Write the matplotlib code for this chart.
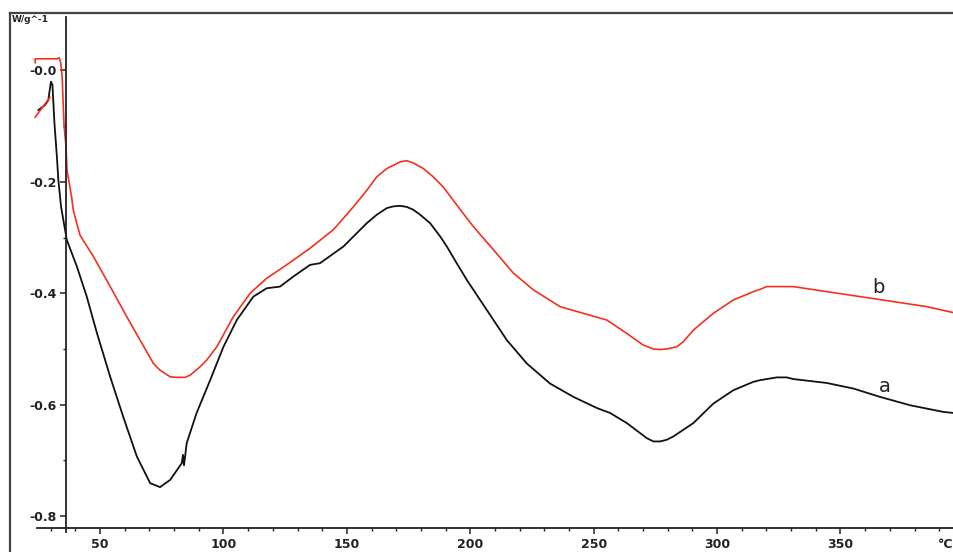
import numpy as np
import matplotlib
matplotlib.use("Agg")
import matplotlib.pyplot as plt
from matplotlib.lines import Line2D

# ---------------------------------------------------------------
# Данные (T, °C  /  тепловой поток, W/g)
# ---------------------------------------------------------------
temp_a = [25.0, 27.7, 29.05, 29.3, 30.1, 30.7, 31.5, 32.5, 33.1, 34.2, 35.8,
          36.5, 40.6, 44.6, 48.7, 54.1, 59.4, 64.9, 70.3, 74.3, 78.4, 83.1,
          83.6, 84.0, 85.1, 89.1, 94.6, 100.0, 105.4, 112.1, 117.5, 122.9,
          128.3, 135.1, 139.1, 148.6, 158.1, 162.1, 166.2, 168.8, 171.6,
          174.3, 176.9, 179.7, 183.7, 187.8, 190.5, 194.5, 198.6, 206.7,
          214.8, 222.9, 232.3, 241.8, 251.3, 256.7, 263.4, 271.5, 274.2,
          276.9, 279.6, 282.3, 290.4, 298.5, 306.6, 314.7, 317.4, 324.2,
          328.2, 330.9, 344.4, 355.2, 366.0, 378.2, 391.7, 396.0]
flow_a = [-0.071, -0.062, -0.053, -0.044, -0.020, -0.026, -0.094, -0.155,
          -0.197, -0.245, -0.286, -0.304, -0.352, -0.406, -0.471, -0.550,
          -0.622, -0.693, -0.741, -0.748, -0.735, -0.705, -0.690, -0.709,
          -0.669, -0.615, -0.556, -0.496, -0.448, -0.406, -0.391, -0.388,
          -0.370, -0.349, -0.346, -0.316, -0.274, -0.259, -0.247, -0.244,
          -0.243, -0.245, -0.250, -0.259, -0.274, -0.298, -0.316, -0.346,
          -0.376, -0.430, -0.484, -0.526, -0.562, -0.586, -0.606, -0.615,
          -0.633, -0.660, -0.666, -0.666, -0.663, -0.657, -0.633, -0.598,
          -0.574, -0.559, -0.556, -0.551, -0.551, -0.554, -0.561, -0.571,
          -0.586, -0.601, -0.613, -0.615]

# кривая b: короткий стартовый кусок, разрыв (nan), затем основная кривая
temp_b = [23.7, 26.5, 29.7, np.nan,
          23.7, 23.7, 32.6, 33.4, 34.0, 34.6, 35.0, 35.4, 36.2, 36.6, 37.6,
          38.5, 39.1, 40.4, 41.9, 47.3, 54.1, 60.8, 66.2, 71.6, 74.3, 78.4,
          81.1, 84.4, 86.5, 90.5, 93.2, 97.3, 104.0, 110.8, 117.5, 125.6,
          135.1, 144.5, 152.6, 158.1, 162.1, 166.2, 171.6, 174.3, 176.9,
          181.0, 185.0, 189.0, 193.1, 197.0, 201.2, 209.4, 217.5, 225.6,
          236.4, 245.8, 255.3, 263.4, 270.1, 274.2, 276.9, 279.6, 283.7,
          286.3, 290.4, 298.5, 306.6, 314.7, 317.4, 320.1, 325.5, 330.9,
          344.4, 358.0, 371.5, 385.0, 396.0]
flow_b = [-0.084, -0.067, -0.048, np.nan,
          0.014, 0.021, 0.021, 0.023, 0.015, -0.008, -0.053, -0.098, -0.137,
          -0.179, -0.205, -0.228, -0.250, -0.272, -0.296, -0.334, -0.388,
          -0.442, -0.484, -0.526, -0.538, -0.550, -0.551, -0.551, -0.547,
          -0.532, -0.520, -0.496, -0.442, -0.400, -0.373, -0.349, -0.319,
          -0.286, -0.245, -0.215, -0.191, -0.176, -0.164, -0.162, -0.166,
          -0.176, -0.191, -0.209, -0.233, -0.256, -0.280, -0.322, -0.364,
          -0.394, -0.424, -0.436, -0.448, -0.472, -0.493, -0.500, -0.501,
          -0.500, -0.496, -0.487, -0.466, -0.436, -0.412, -0.397, -0.393,
          -0.388, -0.388, -0.388, -0.397, -0.406, -0.415, -0.424, -0.435]

y_ticks = [0.0, -0.2, -0.4, -0.6, -0.8]
y_labels = ["-0.0", "-0.2", "-0.4", "-0.6", "-0.8"]
x_ticks = [50, 100, 150, 200, 250, 300, 350]
x_labels = ["50", "100", "150", "200", "250", "300", "350"]

# ---------------------------------------------------------------
# Рисуем
# ---------------------------------------------------------------
W, H = 954, 552
fig = plt.figure(figsize=(W / 100, H / 100), dpi=100)
ax = fig.add_axes([10 / W, (H - 528) / H, 944 / W, (528 - 13) / H])

ax.plot(temp_a, flow_a, color="#111111", lw=1.3)
ax.plot(temp_b, flow_b, color="#f2321e", lw=1.2)

ax.set_xlim(13.5, 396.0)
ax.set_ylim(-0.8214, 0.1032)

frame_col = "#444444"
ax.spines["right"].set_visible(False)
ax.spines["top"].set_color(frame_col)
ax.spines["top"].set_linewidth(1.6)
ax.spines["left"].set_position(("data", 36.2))
ax.spines["left"].set_bounds(-0.828, 0.096)
ax.spines["left"].set_color("#222222")
ax.spines["left"].set_linewidth(1.3)
ax.spines["bottom"].set_bounds(24.5, 396.0)
ax.spines["bottom"].set_color("#222222")
ax.spines["bottom"].set_linewidth(1.3)

ax.set_yticks(y_ticks)
ax.set_yticklabels(y_labels)
ax.set_yticks([-0.1, -0.3, -0.5, -0.7], minor=True)
ax.set_xticks(x_ticks)
ax.set_xticklabels(x_labels)
ax.set_xticks([x for x in range(30, 400, 10) if x % 50 != 0], minor=True)

ax.tick_params(axis="both", which="major", direction="out", length=4.5,
               width=1.1, color="#222222", labelsize=9, labelcolor="#222222")
ax.tick_params(axis="both", which="minor", direction="out", length=2.5,
               width=1.0, color="#222222")
ax.tick_params(axis="x", which="major", pad=3)
ax.tick_params(axis="y", which="major", pad=2)
for lbl in ax.get_xticklabels() + ax.get_yticklabels():
    lbl.set_fontweight("bold")

# внешняя рамка слева
fig.add_artist(Line2D([10 / W, 10 / W], [0, (H - 13) / H],
                      transform=fig.transFigure, color=frame_col, lw=1.6))

# подписи
fig.text(12 / W, (H - 20) / H, "W/g^-1", fontsize=6.5, fontweight="bold",
         color="#222222", va="center", ha="left")
fig.text(953 / W, (H - 545) / H, "°C", fontsize=9, fontweight="bold",
         color="#222222", va="center", ha="right")
ax.text(365.2, -0.389, "b", fontsize=14, color="#222222", ha="center", va="center")
ax.text(368.1, -0.568, "a", fontsize=14, color="#222222", ha="center", va="center")

fig.savefig("out.png", dpi=100)
